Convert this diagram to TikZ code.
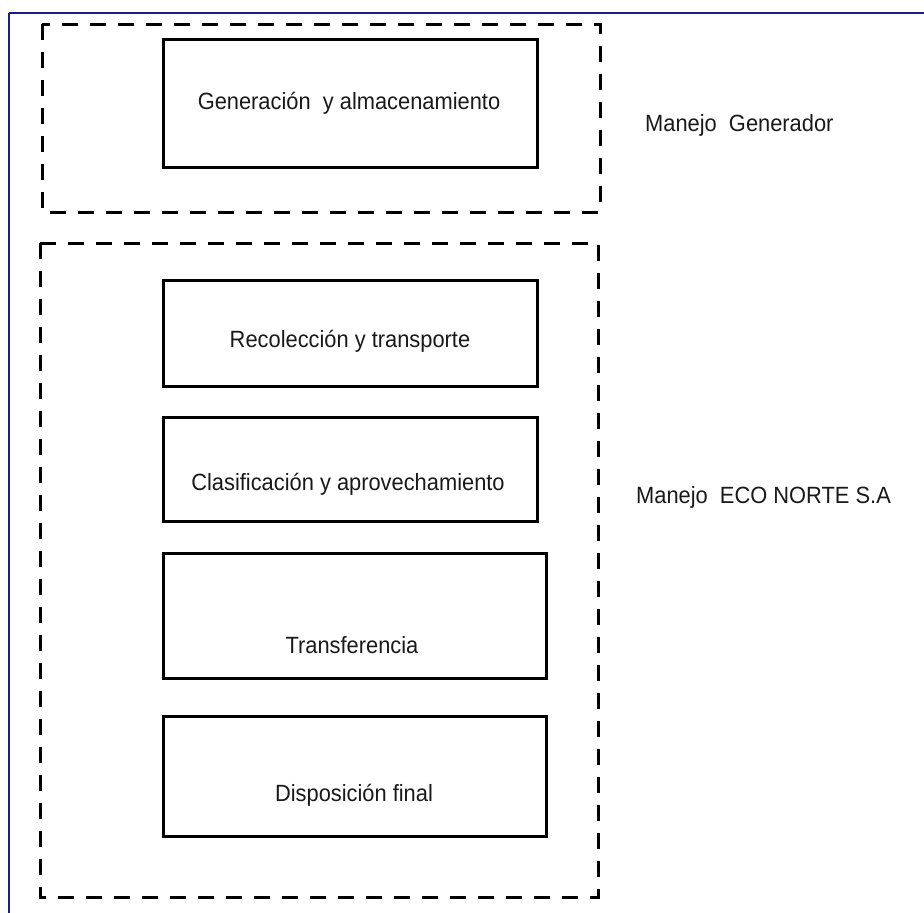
\documentclass[tikz,border=0pt]{standalone}
\usepackage{fontspec}
\setmainfont{Liberation Sans}
\definecolor{framecol}{HTML}{1C1C8C}
\newcommand{\narrowtxt}[1]{\scalebox{0.93}[1]{#1}}
\begin{document}
\begin{tikzpicture}[x=1pt,y=-1pt,
  procbox/.style={draw=black,line width=3pt,rectangle,inner sep=0pt},
  groupbox/.style={draw=black,line width=3pt,dash pattern=on 16pt off 12pt},
  lbl/.style={font=\fontsize{23.5}{27}\selectfont,text=black!90,inner sep=0pt}]
\useasboundingbox (0,0) rectangle (924,913);
% frame lines
\draw[framecol,line width=2pt] (9,12.5) -- (924,12.5);
\draw[framecol,line width=1.3pt] (9,12.5) -- (9,913);
% group boxes
\draw[groupbox] (42,24) rectangle (600,212);
\draw[groupbox] (40,243) rectangle (598,897);
% process boxes
\node[procbox,minimum width=374pt,minimum height=128pt] (b1) at (350,103.5) {};
\node[procbox,minimum width=374pt,minimum height=106pt] (b2) at (350,333) {};
\node[procbox,minimum width=374pt,minimum height=104pt] (b3) at (350,469) {};
\node[procbox,minimum width=383pt,minimum height=125pt] (b4) at (354.5,615.5) {};
\node[procbox,minimum width=383pt,minimum height=120pt] (b5) at (354.5,776) {};
% labels
\node[lbl] (t1) at (349,103) {\narrowtxt{Generación\ \ y almacenamiento}};
\node[lbl] (t2) at (350,341) {\narrowtxt{Recolección y transporte}};
\node[lbl] (t3) at (348,484) {\narrowtxt{Clasificación y aprovechamiento}};
\node[lbl] (t4) at (352,645) {\narrowtxt{Transferencia}};
\node[lbl] (t5) at (354,795) {\narrowtxt{Disposición final}};
\node[lbl,anchor=west] (m1) at (645,125) {\narrowtxt{Manejo\ \ Generador}};
\node[lbl,anchor=west] (m2) at (636,497) {\narrowtxt{Manejo\ \ ECO NORTE S.A}};
\end{tikzpicture}
\end{document}
